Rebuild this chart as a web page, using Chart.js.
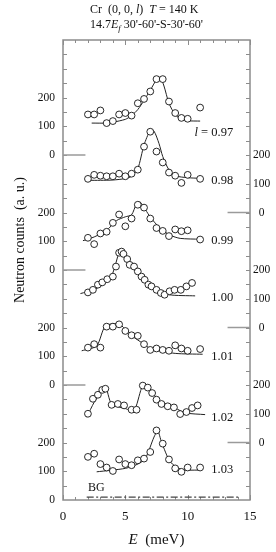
<!DOCTYPE html>
<html><head><meta charset="utf-8">
<script src="https://cdn.jsdelivr.net/npm/chart.js@4/dist/chart.umd.min.js"></script>
<style>html,body{margin:0;padding:0;background:#fff;}#wrap{width:276px;height:552px;position:relative;}</style>
</head><body><div id="wrap"><canvas id="c" width="276" height="552"></canvas></div>
<script>
// ---- data ----
const gridE = [2,2.5,3,3.5,4,4.5,5,5.5,6,6.5,7,7.5,8,8.5,9,9.5,10,11];
const lValues = ['0.97','0.98','0.99','1.00','1.01','1.02','1.03'];
const offsets = [1200,1000,800,600,400,200,0];

const counts097 = [141,141,155,111,118,141,146,137,180,195,221,264,264,186,146,129,126,165];
const counts098 = [117,131,128,126,126,135,126,135,149,229,281,212,174,139,128,103,131,117];
const counts099 = [112,90,127,133,164,193,152,179,227,217,179,146,136,118,141,135,138,106];
const energy100 = [2,2.4,2.8,3.15,3.55,4,4.25,4.5,4.7,4.85,5.15,5.35,5.7,6,6.3,6.55,6.85,7.1,7.5,7.85,8.15,8.55,8.95,9.45,9.9,10.35];
const counts100 = [122,131,149,157,168,177,212,260,264,256,238,218,212,195,177,166,149,143,131,120,114,126,131,131,143,155];
const counts101 = [130,142,130,203,203,211,188,173,171,142,122,127,122,119,138,127,119,125];
const energy102 = [2,2.4,2.8,3.15,3.4,3.9,4.4,4.9,5.5,5.9,6.4,6.8,7.15,7.5,7.9,8.4,8.9,9.4,9.9,10.35,10.8];
const counts102 = [100,152,166,183,187,131,134,129,114,114,198,191,172,149,134,126,122,99,106,120,129];
const counts103 = [150,161,125,113,101,141,125,121,138,144,167,242,196,141,110,98,113,113];

const fitE097 = [2.3,3.5,4,5,5.5,6,6.5,7,7.5,7.8,8.1,8.5,9,9.5,10,11];
const fitC097 = [111,111,114,124,137,158,190,225,262,270,240,180,140,124,119,118];
const fitE098 = [2,3,4,5,5.5,6,6.5,7,7.3,7.7,8,8.5,9,10,11];
const fitC098 = [112,112,113,118,126,152,235,285,283,240,195,148,128,121,119];
const fitE099 = [1.6,2.5,3.5,4.3,5,5.5,5.9,6.2,7,7.8,8.6,9.4,11];
const fitC099 = [102,115,138,172,185,192,230,236,184,145,121,110,107];
const fitE100 = [1.4,2.5,3.5,4,4.5,4.7,5.4,6.3,7.4,8.5,10.6];
const fitC100 = [118,132,158,190,262,270,218,172,133,114,110];
const fitE101 = [1.5,2.7,3.4,4.5,5.4,6.5,7.1,9,11.2];
const fitC101 = [119,136,205,212,175,142,125,110,107];
const fitE102 = [1.9,2.5,3,3.4,3.9,5,5.7,6.3,6.6,7.7,9,9.8,11.4];
const fitC102 = [88,140,172,195,134,118,111,189,205,146,120,103,97];
const fitE103 = [2.7,5,6,6.6,7.3,7.6,7.9,8.6,9.5,10.9];
const fitC103 = [98,110,125,144,219,240,202,133,106,104];

const bgE = [1.9,14.2];
const bgC = [10,10];

const leftZeroLevels = [400,800,1200];
const rightZeroLevels = [200,600,1000];

const pointSets = [
  [gridE, counts097],[gridE, counts098],[gridE, counts099],[energy100, counts100],
  [gridE, counts101],[energy102, counts102],[gridE, counts103]
];
const fitSets = [
  [fitE097, fitC097],[fitE098, fitC098],[fitE099, fitC099],[fitE100, fitC100],
  [fitE101, fitC101],[fitE102, fitC102],[fitE103, fitC103]
];

// ---- build datasets ----
const SERIF = '"Liberation Serif", "DejaVu Serif", serif';
const datasets = [];
pointSets.forEach((s, i) => {
  datasets.push({
    label: 'l = ' + lValues[i],
    data: s[0].map((e, k) => ({x: e, y: s[1][k] + offsets[i]})),
    showLine: false, pointRadius: 3.4, pointBorderWidth: 0.9,
    pointBorderColor: '#111', pointBackgroundColor: '#fff', order: 0
  });
});
fitSets.forEach((s, i) => {
  datasets.push({
    label: 'fit ' + lValues[i],
    data: s[0].map((e, k) => ({x: e, y: s[1][k] + offsets[i]})),
    showLine: true, pointRadius: 0, borderColor: '#222', borderWidth: 1,
    tension: 0.25, order: 1
  });
});
datasets.push({
  label: 'BG', data: bgE.map((e, k) => ({x: e, y: bgC[k]})),
  showLine: true, pointRadius: 0, borderColor: '#444', borderWidth: 1.3,
  borderDash: [7, 2.5, 2, 2.5], order: 1
});
leftZeroLevels.forEach(v => datasets.push({
  label: 'zero', data: [{x: 0, y: v}, {x: 1.8, y: v}],
  showLine: true, pointRadius: 0, borderColor: '#9a9a9a', borderWidth: 1.5, order: 2
}));
rightZeroLevels.forEach(v => datasets.push({
  label: 'zero', data: [{x: 13.2, y: v}, {x: 15, y: v}],
  showLine: true, pointRadius: 0, borderColor: '#9a9a9a', borderWidth: 1.5, order: 2
}));

function yTicks(s) { s.ticks = []; for (let v = 0; v <= 1600; v += 50) s.ticks.push({value: v}); }

function fontFor(st, size) {
  if (st === 'i') return 'italic ' + size + 'px ' + SERIF;
  if (st === 'sub') return 'italic ' + (size * 0.72) + 'px ' + SERIF;
  return size + 'px ' + SERIF;
}
function richWidth(ctx, segs, size) {
  let w = 0;
  segs.forEach(sg => { ctx.font = fontFor(sg[1], size); w += ctx.measureText(sg[0]).width; });
  return w;
}
function drawRich(ctx, segs, x, y, size, align) {
  const w = richWidth(ctx, segs, size);
  let cx = align === 'center' ? x - w / 2 : (align === 'right' ? x - w : x);
  ctx.textAlign = 'left'; ctx.textBaseline = 'alphabetic'; ctx.fillStyle = '#111';
  segs.forEach(sg => {
    ctx.font = fontFor(sg[1], size);
    ctx.fillText(sg[0], cx, sg[1] === 'sub' ? y + size * 0.25 : y);
    cx += ctx.measureText(sg[0]).width;
  });
}

const framePlugin = {
  id: 'frame',
  beforeDatasetsDraw(chart) {
    const {ctx, chartArea: a, scales: {x, y}} = chart;
    ctx.save();
    ctx.strokeStyle = '#8c8c8c'; ctx.lineWidth = 1.5;
    ctx.strokeRect(a.left, a.top, a.right - a.left, a.bottom - a.top);
    ctx.lineWidth = 1;
    ctx.beginPath();
    for (let e = 0; e <= 15; e++) {
      const px = Math.round(x.getPixelForValue(e)) + 0.5;
      const len = e % 5 === 0 ? 5 : 3;
      ctx.moveTo(px, a.top); ctx.lineTo(px, a.top + len);
      ctx.moveTo(px, a.bottom); ctx.lineTo(px, a.bottom - len);
    }
    for (let v = 50; v < 1600; v += 50) {
      const py = Math.round(y.getPixelForValue(v)) + 0.5;
      ctx.moveTo(a.left, py); ctx.lineTo(a.left + 4, py);
      ctx.moveTo(a.right, py); ctx.lineTo(a.right - 4, py);
    }
    ctx.stroke();
    ctx.restore();
  },
  afterDraw(chart) {
    const {ctx, chartArea: a, scales: {x, y}} = chart;
    ctx.save();
    drawRich(ctx, [['Cr  (0, 0, ', 'n'], ['l', 'i'], [')  ', 'n'], ['T', 'i'], [' = 140 K', 'n']], 90, 13, 12, 'left');
    drawRich(ctx, [['14.7', 'n'], ['E', 'i'], ['f', 'sub'], [" 30'-60'-S-30'-60'", 'n']], 90, 28, 12, 'left');
    drawRich(ctx, [['E', 'i'], ['  (meV)', 'n']], (a.left + a.right) / 2, 544, 15, 'center');
    ctx.save();
    ctx.translate(20, 240); ctx.rotate(-Math.PI / 2);
    ctx.font = '14px ' + SERIF; ctx.fillStyle = '#111'; ctx.textAlign = 'center'; ctx.textBaseline = 'middle';
    ctx.fillText('Neutron counts  (a. u.)', 0, 0);
    ctx.restore();
    const labelLevels = [80, 114, 103, 106, 102, 87, 107];
    lValues.forEach((lv, i) => {
      const px = x.getPixelForValue(13.65);
      const py = y.getPixelForValue(offsets[i] + labelLevels[i]) + 4;
      if (i === 0) drawRich(ctx, [['l', 'i'], [' = ' + lv, 'n']], px, py, 12.5, 'right');
      else drawRich(ctx, [[lv, 'n']], px, py, 12.5, 'right');
    });
    drawRich(ctx, [['BG', 'n']], x.getPixelForValue(2), y.getPixelForValue(45) + 4, 12, 'left');
    ctx.restore();
  }
};

new Chart(document.getElementById('c'), {
  type: 'scatter',
  data: {datasets},
  plugins: [framePlugin],
  options: {
    responsive: false, animation: false, devicePixelRatio: 1,
    layout: {padding: {top: 40, left: 0, right: 0, bottom: 0}},
    plugins: {legend: {display: false}, tooltip: {enabled: false}, title: {display: false}},
    scales: {
      x: {
        type: 'linear', position: 'bottom', min: 0, max: 15,
        grid: {display: false, drawTicks: false}, border: {display: false},
        ticks: {stepSize: 5, color: '#111', font: {family: SERIF, size: 13}, padding: 9},
        afterFit: s => { s.height = 52; }
      },
      y: {
        type: 'linear', position: 'left', min: 0, max: 1600,
        grid: {display: false, drawTicks: false}, border: {display: false},
        afterBuildTicks: yTicks,
        ticks: {autoSkip: false, color: '#111', font: {family: SERIF, size: 11.5}, padding: 8,
          callback: v => (v <= 1400 && v % 100 === 0 && v % 400 <= 200) ? String(v % 400) : ''},
        afterFit: s => { s.width = 63; }
      },
      y2: {
        type: 'linear', position: 'right', min: 0, max: 1600,
        grid: {display: false, drawTicks: false}, border: {display: false},
        afterBuildTicks: yTicks,
        ticks: {autoSkip: false, color: '#111', font: {family: SERIF, size: 11.5}, padding: 3, crossAlign: 'center',
          callback: v => (v >= 200 && v <= 1200 && v % 100 === 0 && (v - 200) % 400 <= 200) ? String((v - 200) % 400) : ''},
        afterFit: s => { s.width = 26; }
      }
    }
  }
});
</script></body></html>
